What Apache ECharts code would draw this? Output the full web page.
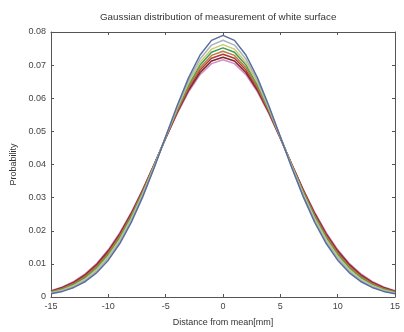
<!DOCTYPE html>
<html>
<head>
<meta charset="utf-8">
<script src="https://cdn.jsdelivr.net/npm/echarts@6/dist/echarts.min.js"></script>
<style>html,body{margin:0;padding:0;background:#fff}#c{width:404px;height:332px}</style>
</head>
<body>
<div id="c"></div>
<script>
var xValues = [-15,-14,-13,-12,-11,-10,-9,-8,-7,-6,-5,-4,-3,-2,-1,0,1,2,3,4,5,6,7,8,9,10,11,12,13,14,15];
var seriesColors = ['#5a6e9c','#a9b4c2','#c8cc6a','#3f9a5a','#c07a3a','#b03a3a','#7a2a2a','#d48cc8'];
var s1 = [0.00096,0.00169,0.00288,0.00469,0.00737,0.01111,0.01614,0.02252,0.03022,0.03900,0.04839,0.05773,0.06622,0.07305,0.07747,0.07900,0.07747,0.07305,0.06622,0.05773,0.04839,0.03900,0.03022,0.02252,0.01614,0.01111,0.00737,0.00469,0.00288,0.00169,0.00096];
var s2 = [0.00111,0.00192,0.00319,0.00512,0.00791,0.01175,0.01681,0.02317,0.03074,0.03929,0.04836,0.05730,0.06539,0.07187,0.07605,0.07750,0.07605,0.07187,0.06539,0.05730,0.04836,0.03929,0.03074,0.02317,0.01681,0.01175,0.00791,0.00512,0.00319,0.00192,0.00111];
var s3 = [0.00126,0.00213,0.00349,0.00550,0.00837,0.01229,0.01737,0.02370,0.03117,0.03950,0.04829,0.05691,0.06466,0.07084,0.07482,0.07620,0.07482,0.07084,0.06466,0.05691,0.04829,0.03950,0.03117,0.02370,0.01737,0.01229,0.00837,0.00550,0.00349,0.00213,0.00126];
var s4 = [0.00138,0.00231,0.00374,0.00583,0.00877,0.01273,0.01784,0.02413,0.03149,0.03968,0.04823,0.05660,0.06409,0.07004,0.07388,0.07520,0.07388,0.07004,0.06409,0.05660,0.04823,0.03968,0.03149,0.02413,0.01784,0.01273,0.00877,0.00583,0.00374,0.00231,0.00138];
var s5 = [0.00151,0.00250,0.00399,0.00614,0.00915,0.01316,0.01828,0.02452,0.03179,0.03980,0.04815,0.05626,0.06350,0.06924,0.07293,0.07420,0.07293,0.06924,0.06350,0.05626,0.04815,0.03980,0.03179,0.02452,0.01828,0.01316,0.00915,0.00614,0.00399,0.00250,0.00151];
var s6 = [0.00164,0.00268,0.00423,0.00645,0.00951,0.01355,0.01868,0.02489,0.03205,0.03993,0.04807,0.05595,0.06297,0.06851,0.07208,0.07330,0.07208,0.06851,0.06297,0.05595,0.04807,0.03993,0.03205,0.02489,0.01868,0.01355,0.00951,0.00645,0.00423,0.00268,0.00164];
var s7 = [0.00178,0.00287,0.00447,0.00675,0.00986,0.01394,0.01906,0.02522,0.03230,0.04001,0.04796,0.05562,0.06242,0.06778,0.07122,0.07240,0.07122,0.06778,0.06242,0.05562,0.04796,0.04001,0.03230,0.02522,0.01906,0.01394,0.00986,0.00675,0.00447,0.00287,0.00178];
var s8 = [0.00191,0.00306,0.00473,0.00705,0.01020,0.01431,0.01943,0.02555,0.03253,0.04010,0.04787,0.05534,0.06194,0.06713,0.07046,0.07160,0.07046,0.06713,0.06194,0.05534,0.04787,0.04010,0.03253,0.02555,0.01943,0.01431,0.01020,0.00705,0.00473,0.00306,0.00191];
var allSeries = [s1,s2,s3,s4,s5,s6,s7,s8];

var FONT = 'Liberation Sans';
var chart = echarts.init(document.getElementById('c'), null, {renderer:'canvas'});
var series = allSeries.map(function(vals, i){
  return {
    type:'line', showSymbol:false, smooth:false, animation:false,
    xAxisIndex:0, yAxisIndex:0,
    data: xValues.map(function(x, j){ return [x, vals[j]]; }),
    lineStyle:{color:seriesColors[i], width:1.5},
    itemStyle:{color:seriesColors[i]},
    z: 10 - i
  };
});
var axisTxt = {color:'#444', fontSize:9, fontFamily:FONT};
var lineSty = {show:true, onZero:false, lineStyle:{color:'#555', width:1}};
var tickSty = {show:true, inside:true, length:3, lineStyle:{color:'#555'}};
chart.setOption({
  backgroundColor:'#fff',
  animation:false,
  title:{text:'Gaussian distribution of measurement of white surface', left:100, top:12, padding:0,
    textStyle:{fontSize:9.8, fontWeight:'normal', color:'#333', fontFamily:FONT}},
  grid:{left:51, right:9, top:32, bottom:30},
  xAxis:[
    {type:'value', min:-15, max:15, interval:5, position:'bottom',
     axisLine:lineSty, axisTick:tickSty,
     axisLabel:Object.assign({margin:5}, axisTxt),
     splitLine:{show:false},
     name:'Distance from mean[mm]', nameLocation:'middle', nameGap:21,
     nameTextStyle:{color:'#333', fontSize:9, fontFamily:FONT}},
    {type:'value', min:-15, max:15, interval:5, position:'top',
     axisLine:lineSty, axisTick:tickSty,
     axisLabel:{show:false}, splitLine:{show:false}}
  ],
  yAxis:[
    {type:'value', min:0, max:0.08, interval:0.01, position:'left',
     axisLine:lineSty, axisTick:tickSty,
     axisLabel:Object.assign({margin:5}, axisTxt),
     splitLine:{show:false},
     name:'Probability', nameLocation:'middle', nameGap:33,
     nameTextStyle:{color:'#333', fontSize:9, fontFamily:FONT}},
    {type:'value', min:0, max:0.08, interval:0.01, position:'right',
     axisLine:lineSty, axisTick:tickSty,
     axisLabel:{show:false}, splitLine:{show:false}}
  ],
  series: series
});
</script>
</body>
</html>
